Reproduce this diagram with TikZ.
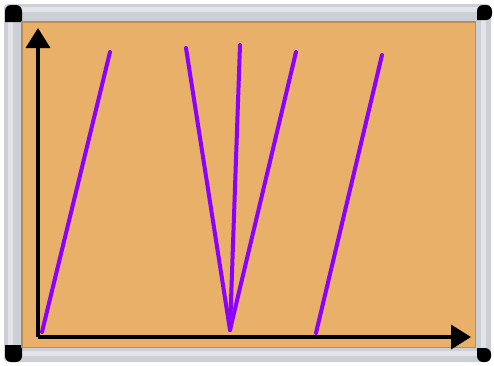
\documentclass[tikz,border=0pt]{standalone}
\usepackage{xcolor}
\usepackage{tikz}
\usetikzlibrary{arrows.meta,calc}
\definecolor{cork}{RGB}{233,176,106}
\definecolor{corkedge}{RGB}{190,140,80}
\definecolor{alu}{RGB}{204,207,214}
\definecolor{aluhi}{RGB}{226,228,232}
\definecolor{violet}{RGB}{140,0,255}

\begin{document}
\begin{tikzpicture}[x=1pt,y=-1pt,
  pen/.style={violet, line width=4pt, line cap=round},
  axis/.style={-{Triangle[length=20pt, width=24pt]}, line width=3.4pt, black}]
  \useasboundingbox (0,0) rectangle (494,365);
  % frame
  \fill[alu, rounded corners=4pt] (4,4) rectangle (491,362);
  \fill[aluhi] (8,7) rectangle (486,12);
  \fill[aluhi] (8,351) rectangle (486,356);
  \fill[aluhi] (8,7) rectangle (13,356);
  \fill[aluhi] (481,7) rectangle (486,356);
  % corner pieces
  \fill[black, rounded corners=6pt] (5,22) -- (5,5) -- (22,5) [sharp corners] -- (22,22) -- cycle;
  \fill[black, rounded corners=6pt] (477,20) -- (477,5) [rounded corners=6pt] -- (492,5) -- (492,20) [sharp corners] -- cycle;
  \fill[black, rounded corners=6pt] (5,345) -- (5,362) -- (22,362) [sharp corners] -- (22,345) -- cycle;
  \fill[black, rounded corners=6pt] (477,348) -- (477,362) -- (491,362) -- (491,348) [sharp corners] -- cycle;
  % cork
  \fill[corkedge] (21,21) rectangle (476,348);
  \fill[cork] (23,23) rectangle (475,347);
  % axes
  \coordinate (O) at (38,337);
  \coordinate (ytop) at (38,28);
  \coordinate (xend) at (471,337);
  \draw[axis] (O) -- (ytop);
  \draw[axis] (O) -- (xend);
  % lines
  \coordinate (a0) at (42,332);
  \coordinate (a1) at (110,52);
  \coordinate (v) at (230,330);
  \coordinate (b1) at (186,48);
  \coordinate (b2) at (240,45);
  \coordinate (b3) at (296,52);
  \coordinate (c0) at (316,333);
  \coordinate (c1) at (382,55);
  \draw[pen] (a0) -- (a1);
  \draw[pen] (v) -- (b1);
  \draw[pen] (v) -- (b2);
  \draw[pen] (v) -- (b3);
  \draw[pen] (c0) -- (c1);
\end{tikzpicture}
\end{document}
